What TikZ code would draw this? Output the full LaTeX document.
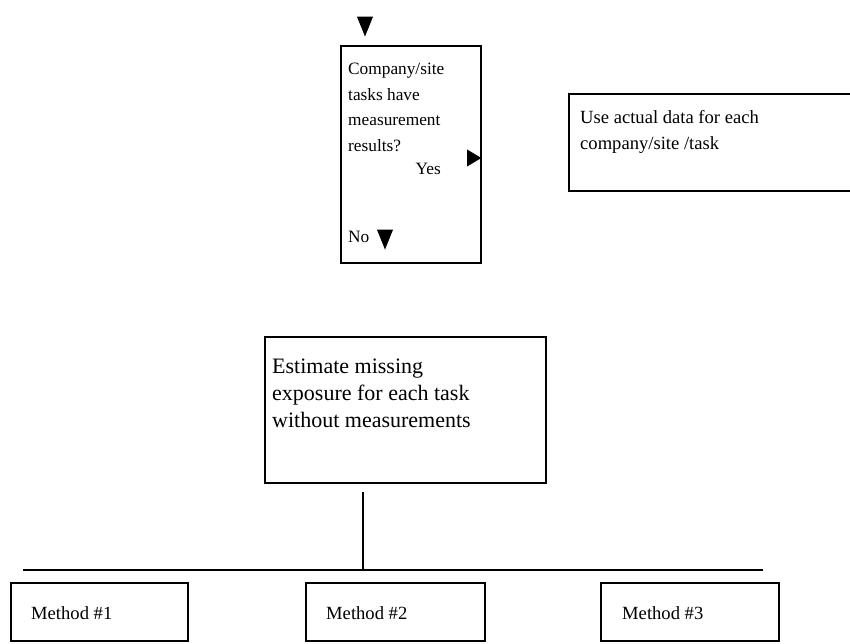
\documentclass[tikz,border=0pt]{standalone}
\usepackage{fontspec}
\setmainfont{Liberation Serif}
\usetikzlibrary{shapes.geometric}
\begin{document}
\begin{tikzpicture}[x=1pt,y=-1pt,
  box/.style={draw,line width=1.8pt,rectangle,inner sep=0pt},
  txt/.style={inner sep=0pt,anchor=base west,font=\fontsize{17.3}{25.5}\selectfont},
  bigtxt/.style={txt,font=\fontsize{22}{27}\selectfont},
  midtxt/.style={txt,font=\fontsize{18.6}{26}\selectfont},
  head/.style={draw=none,fill=black,isosceles triangle,isosceles triangle apex angle=44,
    inner sep=0pt,minimum height=20pt},
  wire/.style={line width=1.6pt}]
\useasboundingbox (0,0) rectangle (850,644);
\clip (0,0) rectangle (850,644);

% arrow heads
\node[head,shape border rotate=-90] (topHead) at (365,22) {};
\node[head,shape border rotate=-90] (noHead) at (385,235) {};
\node[head,shape border rotate=0,isosceles triangle apex angle=62,minimum height=14pt] (yesHead) at (472,158) {};

% decision box
\node[box,minimum width=140pt,minimum height=217pt,anchor=north west] (decide) at (340,45) {};
\node[txt] (dq1) at (348,75) {Company/site};
\node[txt] (dq2) at (348,101) {tasks have};
\node[txt] (dq3) at (348,126) {measurement};
\node[txt] (dq4) at (348,152) {results?};
\node[txt,anchor=base east] (yes) at (441,175) {Yes};
\node[txt] (no) at (348,242) {No};

% actual data box
\node[box,minimum width=290pt,minimum height=97pt,anchor=north west] (actual) at (568,93) {};
\node[midtxt] (ad1) at (580,124) {Use actual data for each};
\node[midtxt] (ad2) at (580,150) {company/site /task};

% estimate box
\node[box,minimum width=281pt,minimum height=146pt,anchor=north west] (estimate) at (264,336) {};
\node[bigtxt] (es1) at (272,373) {Estimate missing};
\node[bigtxt] (es2) at (272,400) {exposure for each task};
\node[bigtxt] (es3) at (272,427) {without measurements};

% branch lines
\coordinate (busL) at (23,570);
\coordinate (busR) at (763,570);
\coordinate (busJ) at (363,570);
\draw[wire] (estimate.south -| busJ) ++(0,8) -- (busJ);
\draw[wire] (busL) -- (busR);

% method boxes
\node[box,minimum width=177pt,minimum height=58pt,anchor=north west] (m1) at (10,582) {};
\node[box,minimum width=179pt,minimum height=58pt,anchor=north west] (m2) at (305,582) {};
\node[box,minimum width=178pt,minimum height=58pt,anchor=north west] (m3) at (600,582) {};
\node[midtxt] (m1t) at (31,619) {Method \#1};
\node[midtxt] (m2t) at (326,619) {Method \#2};
\node[midtxt] (m3t) at (622,619) {Method \#3};
\end{tikzpicture}
\end{document}
